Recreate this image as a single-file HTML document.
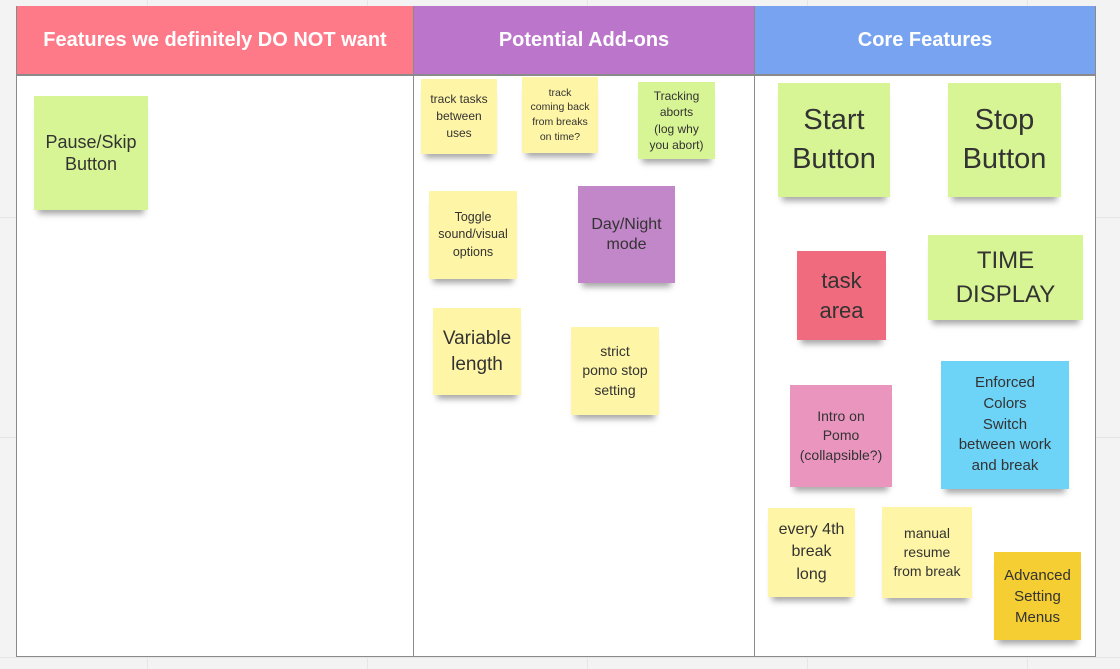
<!DOCTYPE html>
<html><head><meta charset="utf-8"><style>
html,body{margin:0;padding:0;}
body{width:1120px;height:669px;position:relative;overflow:hidden;background:#f3f3f3;font-family:"Liberation Sans",sans-serif;
background-image:linear-gradient(#e6e6e6 1px,transparent 1px),linear-gradient(90deg,#e6e6e6 1px,transparent 1px);background-size:220px 220px;background-position:-73px -3px;}
.board{position:absolute;left:16px;top:6px;width:1078px;height:649px;background:#fff;border:1px solid #8a8a8a;}
.h{position:absolute;top:6px;height:68px;color:#fff;font-weight:bold;font-size:20px;display:flex;align-items:center;justify-content:center;border-bottom:2px solid #8a8a8a;}
.v{position:absolute;top:6px;width:1px;height:650px;background:#8a8a8a;}
.n{position:absolute;display:flex;align-items:center;justify-content:center;text-align:center;color:#333;box-shadow:0 8px 6px -4px rgba(0,0,0,0.35);line-height:1.25;}
.y{background:#fef5a6;} .g{background:#d8f595;}
</style></head><body>
<div class="board"></div>
<div class="h" style="left:17px;width:396px;background:#fe7a88;">Features we definitely DO NOT want</div>
<div class="h" style="left:414px;width:340px;background:#bb76cc;">Potential Add-ons</div>
<div class="h" style="left:755px;width:340px;background:#77a3f1;">Core Features</div>
<div class="v" style="left:413px"></div>
<div class="v" style="left:754px"></div>

<div class="n g" style="left:34px;top:96px;width:114px;height:114px;font-size:18px;">Pause/Skip<br>Button</div>
<div class="n y" style="left:421px;top:79px;width:76px;height:75px;font-size:12px;line-height:1.4">track tasks<br>between<br>uses</div>
<div class="n y" style="left:522px;top:77px;width:76px;height:76px;font-size:10.5px;line-height:1.4">track<br>coming back<br>from breaks<br>on time?</div>
<div class="n g" style="left:638px;top:82px;width:77px;height:77px;font-size:12px;line-height:1.35">Tracking<br>aborts<br>(log why<br>you abort)</div>
<div class="n y" style="left:429px;top:191px;width:88px;height:88px;font-size:12.5px;line-height:1.4">Toggle<br>sound/visual<br>options</div>
<div class="n" style="left:578px;top:186px;width:97px;height:97px;font-size:16px;background:#c287c8;">Day/Night<br>mode</div>
<div class="n y" style="left:433px;top:308px;width:88px;height:87px;font-size:19px;line-height:1.35">Variable<br>length</div>
<div class="n y" style="left:571px;top:327px;width:88px;height:88px;font-size:14px;line-height:1.4">strict<br>pomo stop<br>setting</div>

<div class="n g" style="left:778px;top:83px;width:112px;height:114px;font-size:29px;line-height:1.35">Start<br>Button</div>
<div class="n g" style="left:948px;top:83px;width:113px;height:114px;font-size:29px;line-height:1.35">Stop<br>Button</div>
<div class="n" style="left:797px;top:251px;width:89px;height:89px;font-size:22px;background:#f06b7e;line-height:1.35">task<br>area</div>
<div class="n g" style="left:928px;top:235px;width:155px;height:85px;font-size:24px;line-height:1.4">TIME<br>DISPLAY</div>
<div class="n" style="left:790px;top:385px;width:102px;height:102px;font-size:14px;background:#e995be;line-height:1.4">Intro on<br>Pomo<br>(collapsible?)</div>
<div class="n" style="left:941px;top:361px;width:128px;height:128px;font-size:15px;background:#6dd3f7;line-height:1.38">Enforced<br>Colors<br>Switch<br>between work<br>and break</div>
<div class="n y" style="left:768px;top:508px;width:87px;height:89px;font-size:16px;line-height:1.4">every 4th<br>break<br>long</div>
<div class="n y" style="left:882px;top:507px;width:90px;height:91px;font-size:14px;line-height:1.35">manual<br>resume<br>from break</div>
<div class="n" style="left:994px;top:552px;width:87px;height:88px;font-size:15px;background:#f4ce32;line-height:1.4">Advanced<br>Setting<br>Menus</div>
</body></html>
